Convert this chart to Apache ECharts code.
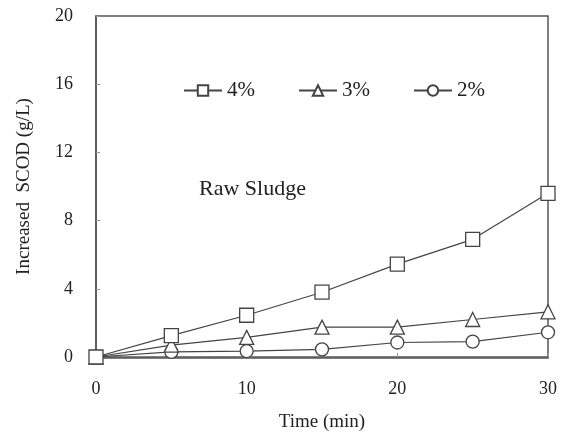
<!DOCTYPE html>
<html>
<head>
<meta charset="utf-8">
<script src="https://cdn.jsdelivr.net/npm/echarts@6/dist/echarts.min.js"></script>
<style>
  html,body{margin:0;padding:0;background:#fff;}
  #main{width:566px;height:437px;}
</style>
</head>
<body>
<div id="main"></div>
<script>
  var time = [0, 5, 10, 15, 20, 25, 30];
  var pct4 = [0, 1.25, 2.45, 3.8, 5.45, 6.9, 9.6];
  var pct3 = [0, 0.7, 1.15, 1.75, 1.75, 2.2, 2.65];
  var pct2 = [0, 0.3, 0.35, 0.45, 0.85, 0.9, 1.45];

  var font = 'Liberation Serif';
  var ink = '#222';

  function pairs(vals){
    var out = [];
    for(var i=0;i<time.length;i++){ out.push([time[i], vals[i]]); }
    return out;
  }
  function line(name, vals, symbol, size){
    return {
      name: name,
      type: 'line',
      data: pairs(vals),
      symbol: symbol,
      symbolSize: size,
      showAllSymbol: true,
      lineStyle: { color: '#444', width: 1.2 },
      itemStyle: { color: '#fff', borderColor: '#444', borderWidth: 1.3 },
      emphasis: { disabled: true },
      animation: false
    };
  }

  var chart = echarts.init(document.getElementById('main'));
  chart.setOption({
    animation: false,
    grid: { left: 96, right: 18, top: 16, bottom: 79 },
    legend: {
      top: 75, left: 178,
      itemGap: 43, itemWidth: 38, itemHeight: 13,
      textStyle: { fontFamily: font, fontSize: 21, color: ink },
      data: ['4%', '3%', '2%']
    },
    xAxis: {
      type: 'value', min: 0, max: 30, interval: 10,
      name: 'Time (min)', nameLocation: 'middle', nameGap: 56,
      nameTextStyle: { fontFamily: font, fontSize: 19, color: ink },
      axisLine: { show: true, lineStyle: { color: '#555', width: 1.5 } },
      axisTick: { show: true, inside: true, length: 4, lineStyle: { color: '#999' } },
      axisLabel: { fontFamily: font, fontSize: 18, color: ink, margin: 23 },
      splitLine: { show: false }
    },
    yAxis: {
      type: 'value', min: 0, max: 20, interval: 4,
      name: 'Increased  SCOD (g/L)', nameLocation: 'middle', nameGap: 62,
      nameTextStyle: { fontFamily: font, fontSize: 19, color: ink },
      axisLine: { show: true, lineStyle: { color: '#555', width: 1.5 } },
      axisTick: { show: true, inside: true, length: 4, lineStyle: { color: '#999' } },
      axisLabel: { fontFamily: font, fontSize: 18, color: ink, margin: 23 },
      splitLine: { show: false }
    },
    graphic: [
      { type: 'rect', z: -1, silent: true,
        shape: { x: 96, y: 16, width: 452, height: 342 },
        style: { fill: 'none', stroke: '#555', lineWidth: 1.5 } },
      { type: 'text', left: 199, top: 178,
        style: { text: 'Raw Sludge', fontFamily: font, fontSize: 22, fill: ink } }
    ],
    series: [
      line('2%', pct2, 'circle', 13),
      line('3%', pct3, 'triangle', 14),
      line('4%', pct4, 'rect', 14)
    ]
  });
</script>
</body>
</html>
